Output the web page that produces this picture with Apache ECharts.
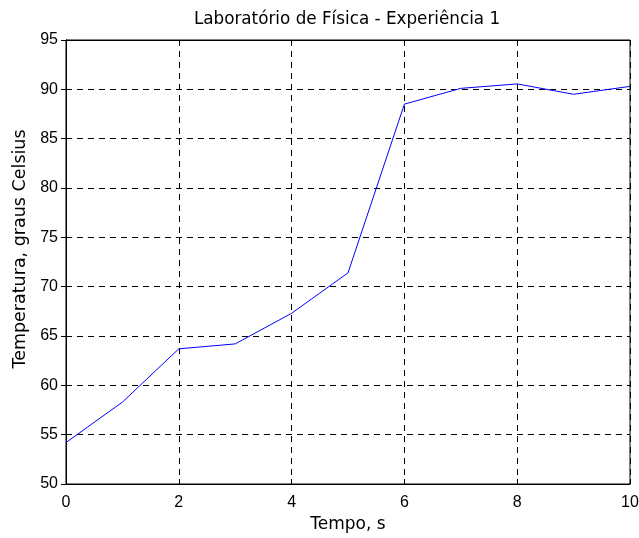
<!DOCTYPE html>
<html>
<head>
<meta charset="utf-8">
<script src="https://cdn.jsdelivr.net/npm/echarts@6/dist/echarts.min.js"></script>
<style>
  html, body { margin: 0; padding: 0; background: #fff; }
  #chart { width: 639px; height: 538px; }
</style>
</head>
<body>
<div id="chart"></div>
<script>
// tempo (s) e temperatura (graus Celsius)
var tempo = [0, 1, 2, 3, 4, 5, 6, 7, 8, 9, 10];
var temperatura = [54.2, 58.3, 63.7, 64.2, 67.3, 71.4, 88.5, 90.1, 90.55, 89.5, 90.3];

var xTicks = [0, 2, 4, 6, 8, 10];
var yTicks = [50, 55, 60, 65, 70, 75, 80, 85, 90, 95];

var chartDom = document.getElementById('chart');
var myChart = echarts.init(chartDom);
var option;

var pontos = tempo.map(function (t, i) {
  return [t, temperatura[i]];
});

var fonte = 'Liberation Sans, Arial, sans-serif';
var fonteLarga = 'DejaVu Sans, sans-serif';
var tracejado = [6, 5];

option = {
  animation: false,
  backgroundColor: '#fff',
  title: {
    text: 'Laboratório de Física - Experiência 1',
    left: 342,
    top: 6,
    textAlign: 'center',
    textStyle: { fontFamily: fonteLarga, fontSize: 16.8, fontWeight: 'normal', color: '#000' }
  },
  grid: {
    left: 66, top: 40, width: 564, height: 444,
    outerBoundsMode: 'none',
    containLabel: false,
    show: true, borderColor: '#000', borderWidth: 1, backgroundColor: '#fff'
  },
  xAxis: [
    {
      type: 'value',
      min: xTicks[0], max: xTicks[xTicks.length - 1], interval: 2,
      name: 'Tempo, s',
      nameLocation: 'middle',
      nameGap: 32,
      nameTextStyle: { fontFamily: fonteLarga, fontSize: 17, color: '#000' },
      axisLine: { show: true, lineStyle: { color: '#000' } },
      axisTick: { show: true, inside: true, length: 5, lineStyle: { color: '#000' } },
      axisLabel: { fontFamily: fonte, fontSize: 16, color: '#000', margin: 11 },
      splitLine: { show: true, lineStyle: { color: '#000', type: tracejado } }
    },
    {
      type: 'value', position: 'top',
      min: xTicks[0], max: xTicks[xTicks.length - 1], interval: 2,
      axisLine: { show: true, lineStyle: { color: '#000' } },
      axisTick: { show: true, inside: true, length: 5, lineStyle: { color: '#000' } },
      axisLabel: { show: false },
      splitLine: { show: false }
    }
  ],
  yAxis: [
    {
      type: 'value',
      min: yTicks[0], max: yTicks[yTicks.length - 1], interval: 5,
      name: 'Temperatura, graus Celsius',
      nameLocation: 'middle',
      nameGap: 36,
      nameTextStyle: { fontFamily: fonteLarga, fontSize: 17.5, color: '#000', padding: [0, 0, 0, 26] },
      axisLine: { show: true, lineStyle: { color: '#000' } },
      axisTick: { show: true, inside: true, length: 5, lineStyle: { color: '#000' } },
      axisLabel: { fontFamily: fonte, fontSize: 16, color: '#000', margin: 8 },
      splitLine: { show: true, lineStyle: { color: '#000', type: tracejado } }
    },
    {
      type: 'value', position: 'right',
      min: yTicks[0], max: yTicks[yTicks.length - 1], interval: 5,
      axisLine: { show: true, lineStyle: { color: '#000' } },
      axisTick: { show: true, inside: true, length: 5, lineStyle: { color: '#000' } },
      axisLabel: { show: false },
      splitLine: { show: false }
    }
  ],
  series: [
    {
      type: 'line',
      data: pontos,
      showSymbol: false,
      lineStyle: { color: '#0000ff', width: 1 },
      itemStyle: { color: '#0000ff' }
    }
  ]
};

option && myChart.setOption(option);
</script>
</body>
</html>
